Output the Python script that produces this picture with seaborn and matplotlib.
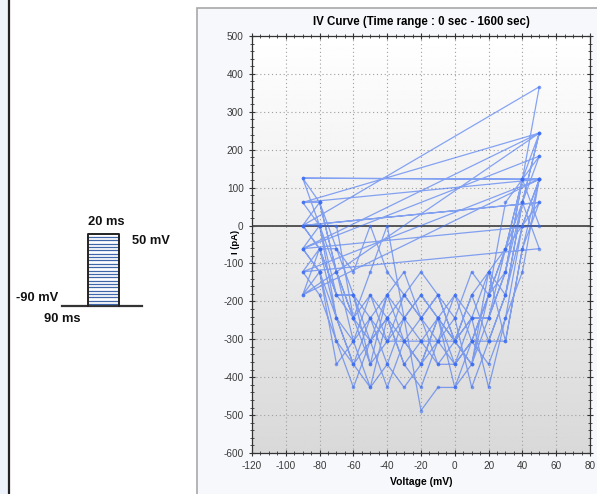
import numpy as np
import pandas as pd
import seaborn as sns
import matplotlib.pyplot as plt
from matplotlib.patches import Rectangle
from matplotlib.ticker import MultipleLocator

plt.rcParams["axes.unicode_minus"] = False

# step voltages of each sweep (mV)
voltages = [-90, -80, -70, -60, -50, -40, -30, -20, -10, 0, 10, 20, 30, 40, 50]

sweep_01 = [0, 61, -61, -183, -305, -244, -366, -305, -244, -305, -244, -122, -61, 122, 366]
sweep_02 = [0, -61, -183, -183, -366, -305, -305, -305, -305, -305, -366, -244, -122, 61, 244]
sweep_03 = [61, 61, -122, -244, -122, 0, -244, -183, -244, -183, -305, -183, -61, 0, 122]
sweep_04 = [125, 0, -244, -366, -427, -244, -183, -244, -366, -366, -305, -183, 61, 122, 183]
sweep_05 = [-61, -122, -305, -427, -305, -183, -244, -488, -427, -427, -305, -366, -244, 0, 122]
sweep_06 = [-122, -61, -183, -183, -244, -366, -427, -366, -305, -244, -427, -305, -183, 61, 244]
sweep_07 = [-183, -122, -244, -305, -183, -305, -183, -244, -305, -366, -244, -244, -122, 122, 0]
sweep_08 = [-61, 0, 0, -244, -366, -183, -122, -244, -183, -305, -183, -305, -305, -61, 122]
sweep_09 = [125, 61, -122, -305, -244, -305, -244, -183, -244, -427, -366, -122, -183, 0, 61]
sweep_10 = [0, -61, -61, -122, 0, -122, -183, -122, -183, -244, -122, -183, -61, 61, -61]
sweep_11 = [-122, -183, -305, -366, -305, -427, -305, -366, -244, -305, -244, -427, -244, -122, 122]
sweep_12 = [61, 0, -122, -244, -305, -244, -366, -427, -305, -183, -244, -244, -61, 122, 244]
sweep_13 = [-61, -122, -366, -305, -427, -366, -244, -305, -366, -305, -183, -122, -305, -61, 61]
sweep_14 = [0, 0, -183, -244, -183, -244, -305, -244, -183, -305, -366, -183, -122, 122, 122]
sweep_15 = [-183, -61, -244, -366, -244, -183, -305, -366, -244, -366, -305, -305, -183, 61, 183]
sweeps = [sweep_01, sweep_02, sweep_03, sweep_04, sweep_05, sweep_06, sweep_07, sweep_08,
          sweep_09, sweep_10, sweep_11, sweep_12, sweep_13, sweep_14, sweep_15]

x_ticks = list(range(-120, 81, 20))
y_ticks = list(range(-600, 501, 100))

# protocol schematic labels
hold_label = "-90 mV"
hold_time = "90 ms"
step_label = "50 mV"
step_time = "20 ms"
n_steps = 21

df = pd.DataFrame({
    "Voltage": np.tile(voltages, len(sweeps)),
    "Current": np.concatenate(sweeps),
})

W, H = 597, 494
fig = plt.figure(figsize=(W / 100, H / 100), dpi=100)
fig.patch.set_facecolor("white")

# ---- background canvas in pixel coords (panel frame + protocol sketch)
bg = fig.add_axes([0, 0, 1, 1], zorder=0)
bg.set_xlim(0, W)
bg.set_ylim(H, 0)
bg.axis("off")
bg.add_patch(Rectangle((0, 0), 8, H, color="#eef2fa", lw=0))
bg.plot([9, 9], [0, H], color="#222222", lw=1.6)
bg.add_patch(Rectangle((197, 8), 420, 500, facecolor="#f7f8fc", edgecolor="#a8a8a8", lw=1.2))

# protocol sketch
bg.plot([62, 142], [306, 306], color="#333333", lw=1.6)
for y in np.linspace(237, 304, n_steps):
    bg.plot([89, 118], [y, y], color="#3f66a8", lw=0.9)
bg.plot([88, 88, 119, 119], [306, 234, 234, 306], color="#222222", lw=1.4)
font_kw = dict(family="Liberation Sans", fontweight="bold", fontsize=9.3, color="#111111")
bg.text(106, 222, step_time, ha="center", va="center", **font_kw)
bg.text(132, 241, step_label, ha="left", va="center", **font_kw)
bg.text(58, 298, hold_label, ha="right", va="center", **font_kw)
bg.text(62, 319, hold_time, ha="center", va="center", **font_kw)

# ---- IV curve axes
ax = fig.add_axes([252 / W, 1 - 453 / H, (590 - 252) / W, (453 - 36) / H], zorder=1)
grad = np.linspace(0.85, 1.0, 256).reshape(-1, 1)
ax.imshow(grad, cmap="gray", vmin=0, vmax=1, extent=[0, 1, 0, 1],
          transform=ax.transAxes, aspect="auto", zorder=0, origin="lower")

sns.lineplot(data=df, x="Voltage", y="Current", sort=False, estimator=None,
             ax=ax, color="#3a6cf2", alpha=0.6, lw=0.9, marker="o",
             markersize=2.6, markeredgewidth=0, zorder=3)
ax.axhline(0, color="#555555", lw=1.4, zorder=2)

ax.set_xlim(-120, 80)
ax.set_ylim(-600, 500)
ax.set_xticks(x_ticks)
ax.set_yticks(y_ticks)
ax.xaxis.set_minor_locator(MultipleLocator(5))
ax.yaxis.set_minor_locator(MultipleLocator(20))
ax.tick_params(which="both", direction="inout", top=True, right=True,
               colors="#333333", labelcolor="#3a3a3a", labelsize=7.2)
ax.tick_params(which="major", length=5, width=0.8)
ax.tick_params(which="minor", length=3, width=0.6)
ax.grid(True, which="major", color="#a0a0a0", ls=(0, (1, 2.5)), lw=0.8, zorder=1)
for s in ax.spines.values():
    s.set_color("#333333")
    s.set_linewidth(0.9)
for lbl in ax.get_xticklabels() + ax.get_yticklabels():
    lbl.set_family("Liberation Sans")

ax.set_xlabel("Voltage (mV)", fontsize=7.5, fontweight="bold", family="Liberation Sans", labelpad=4)
ax.set_ylabel("I (pA)", fontsize=6.8, fontweight="bold", family="Liberation Sans")
ax.yaxis.set_label_coords(-0.035, 0.505)
ax.set_title("IV Curve (Time range : 0 sec - 1600 sec)", fontsize=8.3, fontweight="bold",
             family="Liberation Sans", pad=8)

fig.savefig("out.png", dpi=100)
